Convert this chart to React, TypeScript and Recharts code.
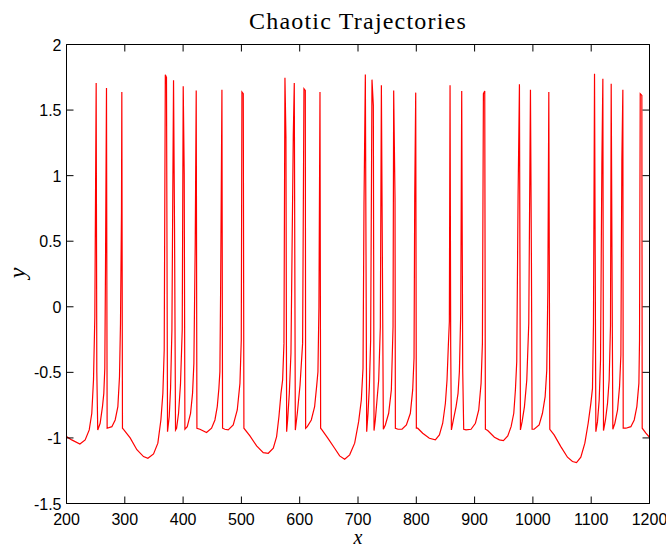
import React from 'react';
import { LineChart, Line, XAxis, YAxis } from 'recharts';

const xTicks = [200, 300, 400, 500, 600, 700, 800, 900, 1000, 1100, 1200];
const yTicks = [-1.5, -1, -0.5, 0, 0.5, 1, 1.5, 2];

// [t, y], burst by burst
const burst1: [number, number][] = [
  [200, -0.99], [209, -1.015], [223, -1.046], [232, -1.015], [239, -0.939], [243.4, -0.812],
  [246.3, -0.558], [248.6, -0.076], [250.9, 1.706], [252, -0.5], [253.6, -0.94], [257.7, -0.888],
  [261.7, -0.761], [264, -0.66], [265.7, -0.469], [266.9, 0.305], [268.6, 1.668], [269.7, -0.926],
  [277.8, -0.914], [283.5, -0.863], [288.1, -0.761], [290.9, -0.533], [292.6, -0.127], [294.3, 0.724],
  [294.9, 1.638], [296, -0.926], [297.8, -0.934], [309.2, -1.0], [320.7, -1.09], [332.1, -1.142],
  [339.6, -1.155],
];

const burst2: [number, number][] = [
  [349.3, -1.122], [356.7, -1.04], [361.9, -0.863], [365.3, -0.66], [367.6, -0.33], [369.5, 1.77],
  [371.5, 1.75], [373.3, -0.952], [376.2, -0.837], [378.5, -0.622], [380.8, -0.178], [383.6, 1.727],
  [385.3, 0.597], [387, -0.94], [388.8, -0.926], [392.2, -0.812], [395.5, -0.59], [398.5, -0.178],
  [400.2, 1.681], [401.9, 1.016], [403.1, -0.934], [407.1, -0.914], [412.8, -0.812], [416.2, -0.66],
  [418.5, -0.431], [420.8, 0.483], [422.5, 1.65], [423.7, -0.926], [428.8, -0.934], [440.2, -0.959],
  [448.8, -0.926], [454.6, -0.863], [458.6, -0.761], [461.4, -0.622], [463.1, -0.495], [464.3, 0.102],
  [466.6, 1.655], [467.7, -0.926], [471.7, -0.934], [477.4, -0.939], [486, -0.901], [492.9, -0.787],
  [497.5, -0.584], [499.8, -0.254], [500.9, 1.638], [503.2, 1.625], [504.3, -0.926], [514.6, -0.985],
  [526.1, -1.061], [537.5, -1.112], [546.1, -1.117],
];

const burst3: [number, number][] = [
  [554.7, -1.079], [560.4, -0.99], [564.4, -0.837], [567.9, -0.66], [570.7, -0.558], [573, -0.279],
  [574.7, 1.747], [576.4, 1.295], [577.6, -0.952], [579.3, -0.863], [582.2, -0.66], [585, -0.355],
  [589, 1.308], [590.7, 1.706], [592.5, -0.94], [595.9, -0.812], [600.5, -0.6], [605, -0.279],
  [607.3, 1.663], [609.6, 1.65], [610.2, -0.926], [613, -0.914], [619.9, -0.863], [625.6, -0.761],
  [629, -0.609], [631.3, -0.495], [633, 0], [634.8, 1.638], [635.9, -0.926], [638.2, -0.939],
  [648.5, -1.003], [659.9, -1.079], [668.5, -1.137], [677.1, -1.162],
];

const burst4: [number, number][] = [
  [685.7, -1.129], [694.3, -1.04], [701.1, -0.876], [705.7, -0.711], [708.6, -0.469], [710.3, 0.787],
  [712.6, 1.772], [714.9, -0.952], [717.2, -0.812], [719.5, -0.609], [721.7, -0.254], [724, 1.732],
  [726.3, 1.536], [727.5, -0.944], [729.7, -0.863], [732.6, -0.711], [735.5, -0.558], [738.3, -0.152],
  [740.1, 1.689], [741.8, 0.381], [743.5, -0.934], [746.9, -0.901], [752.6, -0.812], [757.2, -0.634],
  [760.1, -0.152], [761.2, 1.65], [763.5, 0.825], [764.1, -0.926], [768.7, -0.934], [775.5, -0.934],
  [783, -0.901], [789.8, -0.812], [793.8, -0.634], [796.1, -0.393], [797.3, 0.838], [799, 1.633],
  [800.1, -0.926], [802.4, -0.926], [811, -0.964], [822.4, -1.003], [832.7, -1.015],
];

const burst5: [number, number][] = [
  [839.6, -0.977], [845.3, -0.888], [849.9, -0.736], [852.7, -0.558], [855, -0.292], [856.7, -0.114],
  [857.9, 1.689], [859, -0.305], [860.2, -0.939], [863.6, -0.863], [868.2, -0.761], [871.6, -0.66],
  [873.9, -0.495], [876.2, -0.05], [877.9, 1.645], [879.6, -0.482], [881.3, -0.934], [885.3, -0.939],
  [893.9, -0.934], [901.4, -0.888], [907.1, -0.787], [911.1, -0.584], [913.4, -0.279], [915.1, 1.625],
  [917.4, 1.645], [918.5, -0.934], [922.5, -0.944], [934, -0.995], [942.6, -1.015], [949.4, -1.02],
];

const burst6: [number, number][] = [
  [956.9, -0.985], [962.6, -0.914], [967.2, -0.812], [970, -0.634], [972.3, -0.418], [974.6, 0.851],
  [976.9, 1.696], [978.6, -0.939], [981.5, -0.876], [985.5, -0.761], [989.5, -0.558], [992.9, -0.127],
  [995.8, 1.655], [997.5, 0.33], [998.6, -0.934], [1002.1, -0.934], [1010.7, -0.901], [1016.4, -0.812],
  [1021, -0.685], [1023.8, -0.482], [1025.6, 0.114], [1027.3, 1.638], [1029, -0.934], [1036.4, -0.977],
  [1047.9, -1.066], [1059.3, -1.147], [1067.9, -1.18], [1074.8, -1.188],
];

const burst7: [number, number][] = [
  [1082.2, -1.147], [1089.1, -1.04], [1094.8, -0.888], [1099.4, -0.736], [1102.2, -0.622],
  [1103.9, -0.127], [1105.7, 1.777], [1108, -0.952], [1110.8, -0.876], [1113.7, -0.711], [1116, -0.406],
  [1118.3, 1.087], [1120, 1.739], [1121.1, -0.944], [1124.5, -0.863], [1128, -0.736], [1130.8, -0.558],
  [1133.1, -0.14], [1134.3, 1.701], [1136, 0.064], [1137.1, -0.934], [1140.6, -0.888], [1145.2, -0.787],
  [1148.6, -0.609], [1150.9, -0.368], [1152.6, 1.117], [1154.3, 1.655], [1154.9, -0.926],
  [1159.5, -0.926], [1168, -0.914], [1173.8, -0.863], [1178.3, -0.761], [1181.8, -0.584],
  [1182.9, -0.254], [1184.1, 1.625], [1186.9, 1.612], [1187.5, -0.926], [1193.8, -0.964], [1200, -0.995],
];

const trajectory = [...burst1, ...burst2, ...burst3, ...burst4, ...burst5, ...burst6, ...burst7].map(
  ([t, y]) => ({ t, y })
);

const tickFont = '"Liberation Sans", Arial, Helvetica, sans-serif';
const serifFont = '"Liberation Serif", "Times New Roman", serif';

// layout
const W = 666;
const H = 545;
const margin = { top: 44.5, right: 16.5, bottom: 1.5, left: 6.5 };
const X_AXIS_H = 40;
const Y_AXIS_W = 60;
const plotW = W - margin.left - margin.right - Y_AXIS_W;
const plotH = H - margin.top - margin.bottom - X_AXIS_H;
const TICK = 7;

// matlab style: ticks point inward on all four sides, labels outside
const BottomTick = (props: any) => {
  const { x, y, payload } = props;
  return (
    <g>
      <line x1={x} y1={y} x2={x} y2={y - TICK} stroke="#000" />
      <line x1={x} y1={y - plotH} x2={x} y2={y - plotH + TICK} stroke="#000" />
      <text x={x} y={y + 21} textAnchor="middle" fontSize={16} fontFamily={tickFont} fill="#000">
        {payload.value}
      </text>
    </g>
  );
};

const LeftTick = (props: any) => {
  const { x, y, payload } = props;
  return (
    <g>
      <line x1={x} y1={y} x2={x + TICK} y2={y} stroke="#000" />
      <line x1={x + plotW} y1={y} x2={x + plotW - TICK} y2={y} stroke="#000" />
      <text x={x - 5} y={y + 6} textAnchor="end" fontSize={16} fontFamily={tickFont} fill="#000">
        {payload.value}
      </text>
    </g>
  );
};

const App = () => {
  return (
    <div style={{ position: 'absolute', left: 0, top: 0, width: W, height: H, background: '#fff', overflow: 'hidden' }}>
      <div
        style={{
          position: 'absolute',
          left: 0,
          width: 716,
          top: 9,
          textAlign: 'center',
          fontFamily: serifFont,
          fontSize: 24,
          letterSpacing: 1.2,
          lineHeight: '24px',
          color: '#000',
        }}
      >
        Chaotic Trajectories
      </div>
      <div
        style={{
          position: 'absolute',
          left: 5,
          top: 261,
          width: 24,
          height: 24,
          textAlign: 'center',
          fontFamily: serifFont,
          fontStyle: 'italic',
          fontSize: 24,
          lineHeight: '24px',
          transform: 'rotate(-90deg)',
        }}
      >
        y
      </div>
      <div
        style={{
          position: 'absolute',
          left: 0,
          width: 716,
          top: 531,
          textAlign: 'center',
          fontFamily: serifFont,
          fontStyle: 'italic',
          fontSize: 20,
          lineHeight: '12px',
        }}
      >
        x
      </div>
      <LineChart width={W} height={H} data={trajectory} margin={margin}>
        <XAxis
          dataKey="t"
          type="number"
          domain={[200, 1200]}
          ticks={xTicks}
          interval={0}
          allowDataOverflow
          height={X_AXIS_H}
          tickLine={false}
          tickSize={0}
          tickMargin={0}
          tick={BottomTick}
          axisLine={{ stroke: '#000' }}
        />
        <XAxis
          xAxisId="top"
          orientation="top"
          mirror
          dataKey="t"
          type="number"
          domain={[200, 1200]}
          allowDataOverflow
          height={1}
          tick={false}
          tickLine={false}
          axisLine={{ stroke: '#000' }}
        />
        <YAxis
          type="number"
          domain={[-1.5, 2]}
          ticks={yTicks}
          interval={0}
          allowDataOverflow
          width={Y_AXIS_W}
          tickLine={false}
          tickSize={0}
          tickMargin={0}
          tick={LeftTick}
          axisLine={{ stroke: '#000' }}
        />
        <YAxis
          yAxisId="right"
          orientation="right"
          mirror
          type="number"
          domain={[-1.5, 2]}
          allowDataOverflow
          width={1}
          tick={false}
          tickLine={false}
          axisLine={{ stroke: '#000' }}
        />
        <Line
          type="linear"
          dataKey="y"
          stroke="#ff0000"
          strokeWidth={1.2}
          dot={false}
          isAnimationActive={false}
        />
      </LineChart>
    </div>
  );
};

export default App;
